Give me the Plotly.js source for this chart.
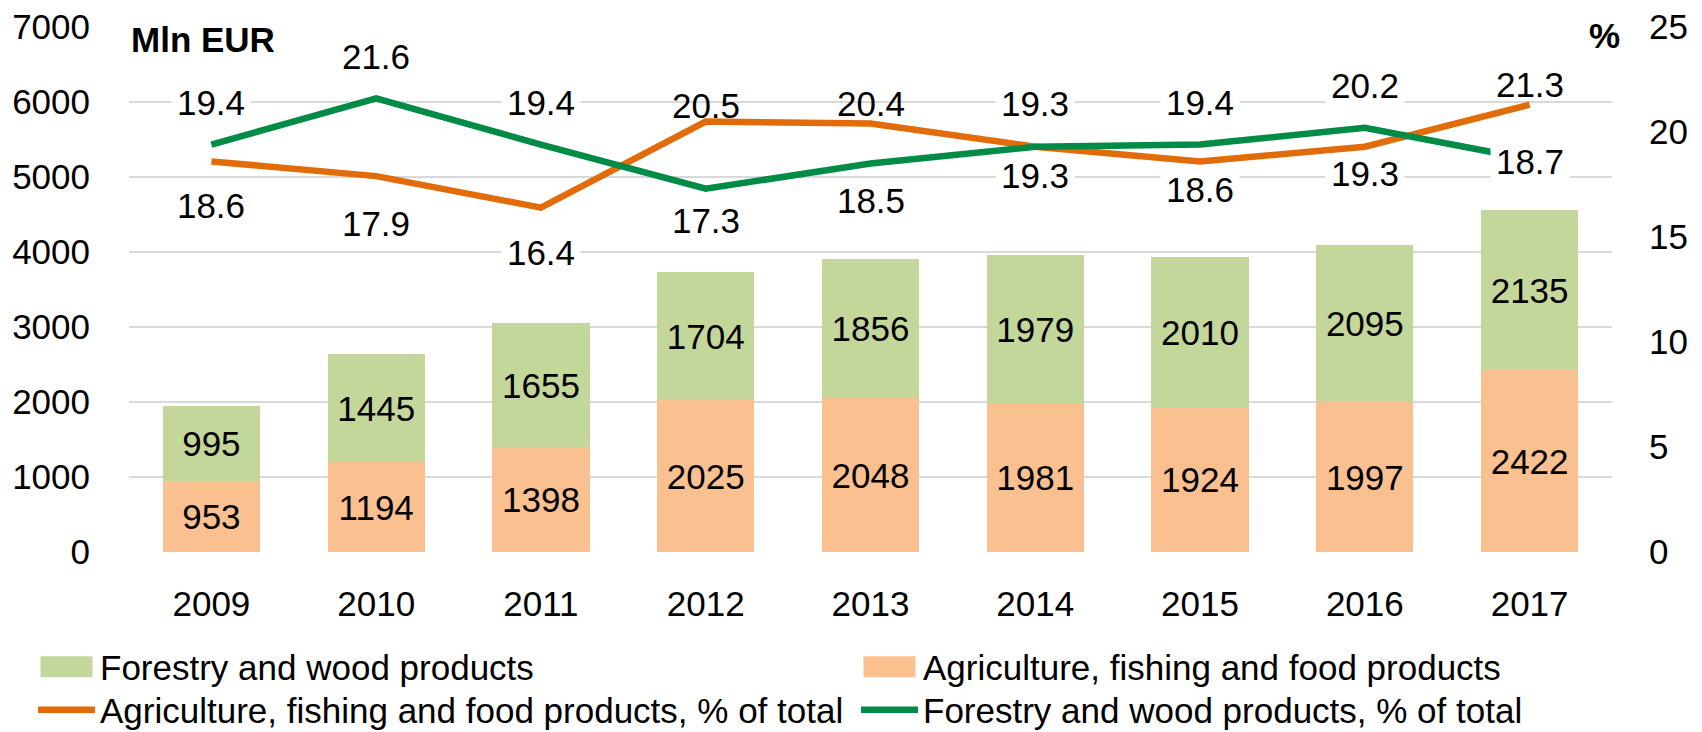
<!DOCTYPE html>
<html>
<head>
<meta charset="utf-8">
<script src="https://cdn.plot.ly/plotly-3.0.1.min.js"></script>
<style>
html,body{margin:0;padding:0;background:#fff;}
#chart{width:1702px;height:732px;}
</style>
</head>
<body>
<div id="chart"></div>
<script>
// ---- data ----
const years = ['2009','2010','2011','2012','2013','2014','2015','2016','2017'];
const agriValues = [953, 1194, 1398, 2025, 2048, 1981, 1924, 1997, 2422];
const forestValues = [995, 1445, 1655, 1704, 1856, 1979, 2010, 2095, 2135];
const agriShare = [18.6, 17.9, 16.4, 20.5, 20.4, 19.3, 18.6, 19.3, 21.3];
const forestShare = [19.4, 21.6, 19.4, 17.3, 18.5, 19.3, 19.4, 20.2, 18.7];
const leftTicks = [0, 1000, 2000, 3000, 4000, 5000, 6000, 7000];
const rightTicks = [0, 5, 10, 15, 20, 25];

// ---- label offsets (px, positive = up) and whether the label has a white box ----
const forestLabelShift = [42, 42, 42, -32, -37, -29, 42, 42, -2];
const agriLabelShift = [-44, -47, -45, 16, 20, 43, -28, -27, 20];
const forestLabelBoxed = [true, true, true, true, true, true, true, true, true];
const agriLabelBoxed = [true, true, true, false, false, true, true, true, false];

const FONT = '"Liberation Sans", Arial, sans-serif';
const FS = 35;
const cForestBar = '#C4D79B';
const cAgriBar = '#FAC090';
const cAgriLine = '#E36C0A';
const cForestLine = '#008B47';

const traces = [
  {
    type: 'bar', name: 'Agriculture, fishing and food products',
    x: years, y: agriValues, marker: {color: cAgriBar},
    text: agriValues.map(String), textposition: 'inside', insidetextanchor: 'middle',
    textangle: 0, insidetextfont: {family: FONT, size: FS, color: '#000'},
    legend: 'legend2', hoverinfo: 'skip'
  },
  {
    type: 'bar', name: 'Forestry and wood products',
    x: years, y: forestValues, marker: {color: cForestBar},
    text: forestValues.map(String), textposition: 'inside', insidetextanchor: 'middle',
    textangle: 0, insidetextfont: {family: FONT, size: FS, color: '#000'},
    legend: 'legend', hoverinfo: 'skip'
  },
  {
    type: 'scatter', mode: 'lines', name: 'Agriculture, fishing and food products, % of total',
    x: years, y: agriShare, yaxis: 'y2', line: {color: cAgriLine, width: 6.5},
    legend: 'legend3', hoverinfo: 'skip'
  },
  {
    type: 'scatter', mode: 'lines', name: 'Forestry and wood products, % of total',
    x: years, y: forestShare, yaxis: 'y2', line: {color: cForestLine, width: 6.5},
    legend: 'legend4', hoverinfo: 'skip'
  }
];

const annotations = [];
function addLabel(i, v, shift, boxed) {
  annotations.push({
    x: i, y: v, xref: 'x', yref: 'y2', text: v.toFixed(1), showarrow: false,
    yshift: shift, bgcolor: boxed ? '#fff' : 'rgba(0,0,0,0)', width: 78, borderpad: 0,
    font: {family: FONT, size: FS, color: '#000'}
  });
}
years.forEach((yr, i) => {
  addLabel(i, forestShare[i], forestLabelShift[i], forestLabelBoxed[i]);
  addLabel(i, agriShare[i], agriLabelShift[i], agriLabelBoxed[i]);
});
annotations.push({
  xref: 'paper', yref: 'paper', x: 0, y: 1, xanchor: 'left', yanchor: 'middle',
  yshift: -12, showarrow: false, text: '<b>Mln EUR</b>',
  font: {family: FONT, size: FS, color: '#000'}
});
annotations.push({
  xref: 'paper', yref: 'paper', x: 1, y: 1, xanchor: 'right', yanchor: 'middle',
  xshift: 10, yshift: -8, showarrow: false, text: '<b>%</b>',
  font: {family: FONT, size: FS, color: '#000'}
});

function legendAt(xpx, ypx) {
  return {
    orientation: 'h', xref: 'container', yref: 'container',
    xanchor: 'left', yanchor: 'middle', x: xpx / 1702, y: 1 - ypx / 732,
    font: {family: FONT, size: FS, color: '#000'},
    bgcolor: 'rgba(0,0,0,0)', borderwidth: 0, itemwidth: 57,
    itemclick: false, itemdoubleclick: false
  };
}

const layout = {
  width: 1702, height: 732,
  margin: {l: 129, r: 90, t: 27, b: 180, pad: 0},
  paper_bgcolor: '#fff', plot_bgcolor: '#fff',
  barmode: 'stack', bargap: 0.41,
  font: {family: FONT, size: FS, color: '#000'},
  showlegend: true,
  xaxis: {
    type: 'category', showgrid: false, zeroline: false, showline: false,
    ticks: '', ticklabelstandoff: 28,
    tickfont: {family: FONT, size: FS, color: '#000'}
  },
  yaxis: {
    range: [0, 7000], tickvals: leftTicks, ticktext: leftTicks.map(String),
    showgrid: true, gridcolor: '#D9D9D9', gridwidth: 2,
    zeroline: false, showline: false, ticks: '', ticklabelstandoff: 38,
    tickfont: {family: FONT, size: FS, color: '#000'}
  },
  yaxis2: {
    range: [0, 25], tickvals: rightTicks, ticktext: rightTicks.map(String),
    overlaying: 'y', side: 'right', showgrid: false, zeroline: false,
    showline: false, ticks: '', ticklabelstandoff: 36,
    tickfont: {family: FONT, size: FS, color: '#000'}
  },
  legend: legendAt(33, 667),
  legend2: legendAt(856, 667),
  legend3: legendAt(33, 710),
  legend4: legendAt(856, 710),
  annotations: annotations
};

Plotly.newPlot('chart', traces, layout, {displayModeBar: false, staticPlot: true}).then(function (gd) {
  // widen the bar legend swatches (in every legend) to match the reference's rectangles
  gd.querySelectorAll('g.traces').forEach(function (g) {
    const d = g.__data__;
    if (d && d[0] && d[0].trace && d[0].trace.type === 'bar') {
      g.querySelectorAll('.legendpoints path').forEach(function (p) {
        p.setAttribute('d', 'M26,10.5H-26V-10.5H26Z');
      });
    }
  });
});
</script>
</body>
</html>
